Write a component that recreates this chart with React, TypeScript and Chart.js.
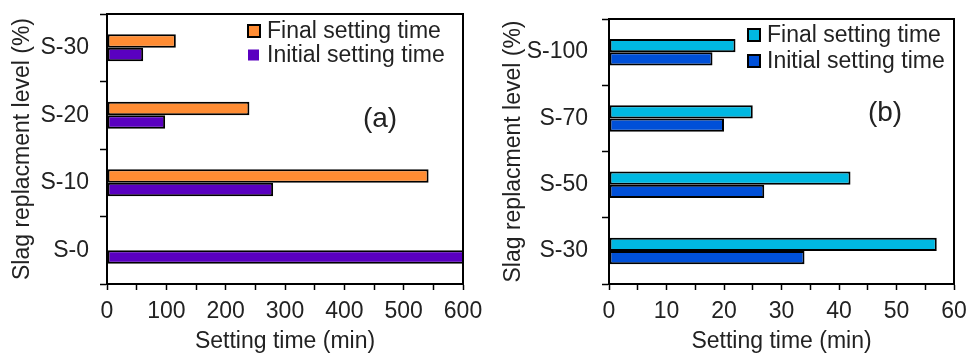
import React, { useEffect, useRef } from "react";
import { Chart, registerables } from "chart.js";

Chart.register(...registerables);

const catsA = ["S-30", "S-20", "S-10", "S-0"];
const finalA = [116, 240, 542, null];
const initialA = [61, 98, 280, 640];

const catsB = ["S-100", "S-70", "S-50", "S-30"];
const finalB = [22, 25, 42, 57];
const initialB = [18, 20, 27, 34];

const seriesNames = ["Final setting time", "Initial setting time"];
const xTitle = "Setting time (min)";
const yTitle = "Slag replacment level (%)";

const FONT = "'Liberation Sans', Arial, sans-serif";
const TXT = "#222";

type Cfg = {
  cats: string[];
  fin: (number | null)[];
  ini: (number | null)[];
  colors: [string, string];
  xMax: number;
  step: number;
  major: number;
  padTop: number;
  padRight: number;
  yWidth: number;
  yTickPad: number;
  yTitlePad: number;
  legendX: number;
  legendY: [number, number];
  legendBorder: [boolean, boolean];
  label: string;
  labelX: number;
  labelY: number;
};

const frameLegendPlugin = (cfg: Cfg) => ({
  id: "frameLegend",
  afterDraw(chart: any) {
    const { ctx, chartArea } = chart;
    ctx.save();
    ctx.strokeStyle = "#000";
    ctx.lineWidth = 2;
    ctx.strokeRect(chartArea.left, chartArea.top, chartArea.right - chartArea.left, chartArea.bottom - chartArea.top);
    // legend
    ctx.font = `23px ${FONT}`;
    ctx.textBaseline = "middle";
    ctx.textAlign = "left";
    for (let i = 0; i < 2; i++) {
      const cy = cfg.legendY[i];
      const sz = cfg.legendBorder[i] ? 12 : 11;
      ctx.fillStyle = cfg.colors[i];
      ctx.fillRect(cfg.legendX, cy - sz / 2, sz, sz);
      if (cfg.legendBorder[i]) {
        ctx.lineWidth = 2;
        ctx.strokeStyle = "#000";
        ctx.strokeRect(cfg.legendX, cy - sz / 2, sz, sz);
      }
      ctx.fillStyle = TXT;
      ctx.fillText(seriesNames[i], cfg.legendX + 19, cy + 1);
    }
    ctx.font = `28px ${FONT}`;
    ctx.textAlign = "center";
    ctx.fillText(cfg.label, cfg.labelX, cfg.labelY);
    ctx.restore();
  },
});

function Panel({ cfg }: { cfg: Cfg }) {
  const ref = useRef<HTMLCanvasElement>(null);
  useEffect(() => {
    const chart = new Chart(ref.current as HTMLCanvasElement, {
      type: "bar",
      data: {
        labels: cfg.cats,
        datasets: [
          {
            label: seriesNames[0],
            data: cfg.fin as any,
            backgroundColor: cfg.colors[0],
            borderColor: "#000",
            borderWidth: 2,
            borderSkipped: false,
            categoryPercentage: 0.4,
            barPercentage: 1,
          },
          {
            label: seriesNames[1],
            data: cfg.ini as any,
            backgroundColor: cfg.colors[1],
            borderColor: "#000",
            borderWidth: 2,
            borderSkipped: false,
            categoryPercentage: 0.4,
            barPercentage: 1,
          },
        ],
      },
      options: {
        indexAxis: "y",
        responsive: false,
        animation: false,
        layout: { padding: { top: cfg.padTop, right: cfg.padRight, left: 0, bottom: 0 } },
        plugins: { legend: { display: false }, tooltip: { enabled: false } },
        scales: {
          x: {
            min: 0,
            max: cfg.xMax,
            afterFit: (s: any) => {
              s.height = 70;
              s.paddingLeft = 0;
              s.paddingRight = 0;
            },
            ticks: {
              stepSize: cfg.step,
              autoSkip: false,
              maxRotation: 0,
              padding: 8,
              color: TXT,
              font: { family: FONT, size: 23 },
              callback: (v: any) => (Number(v) % cfg.major === 0 ? String(v) : ""),
            },
            grid: { drawOnChartArea: false, drawTicks: true, tickLength: 6, tickColor: "#000", tickWidth: 1.5 },
            border: { display: true, color: "#000", width: 2 },
            title: {
              display: true,
              text: xTitle,
              color: TXT,
              font: { family: FONT, size: 23, lineHeight: 1 },
              padding: { top: 0, bottom: 0.5 },
            },
          },
          y: {
            afterFit: (s: any) => {
              s.width = cfg.yWidth;
              s.paddingTop = 0;
              s.paddingBottom = 0;
            },
            ticks: {
              padding: cfg.yTickPad,
              color: TXT,
              font: { family: FONT, size: 23 },
            },
            grid: { drawOnChartArea: false, drawTicks: true, tickLength: 7, tickColor: "#000", tickWidth: 1.5, offset: true },
            border: { display: true, color: "#000", width: 2 },
            title: {
              display: true,
              text: yTitle,
              color: TXT,
              font: { family: FONT, size: 23, lineHeight: 1 },
              padding: { top: cfg.yTitlePad, bottom: 0 },
            },
          },
        },
      } as any,
      plugins: [frameLegendPlugin(cfg)],
    });
    return () => chart.destroy();
  }, [cfg]);
  return <canvas ref={ref} width={484} height={354} style={{ display: "block", width: 484, height: 354 }} />;
}

const cfgA: Cfg = {
  cats: catsA,
  fin: finalA,
  ini: initialA,
  colors: ["#FF8C33", "#5A00C0"],
  xMax: 600,
  step: 50,
  major: 100,
  padTop: 14,
  padRight: 21,
  yWidth: 107,
  yTickPad: 11,
  yTitlePad: 11.5,
  legendX: 248,
  legendY: [31, 55],
  legendBorder: [true, false],
  label: "(a)",
  labelX: 380,
  labelY: 119,
};

const cfgB: Cfg = {
  cats: catsB,
  fin: finalB,
  ini: initialB,
  colors: ["#00B8E2", "#0050D8"],
  xMax: 60,
  step: 5,
  major: 10,
  padTop: 19,
  padRight: 14,
  yWidth: 125,
  yTickPad: 14,
  yTitlePad: 18.5,
  legendX: 264,
  legendY: [35, 61],
  legendBorder: [true, true],
  label: "(b)",
  labelX: 401,
  labelY: 113,
};

export default function App() {
  return (
    <div style={{ position: "fixed", left: 0, top: 0, width: 968, height: 354, background: "#fff", display: "flex" }}>
      <Panel cfg={cfgA} />
      <Panel cfg={cfgB} />
    </div>
  );
}
